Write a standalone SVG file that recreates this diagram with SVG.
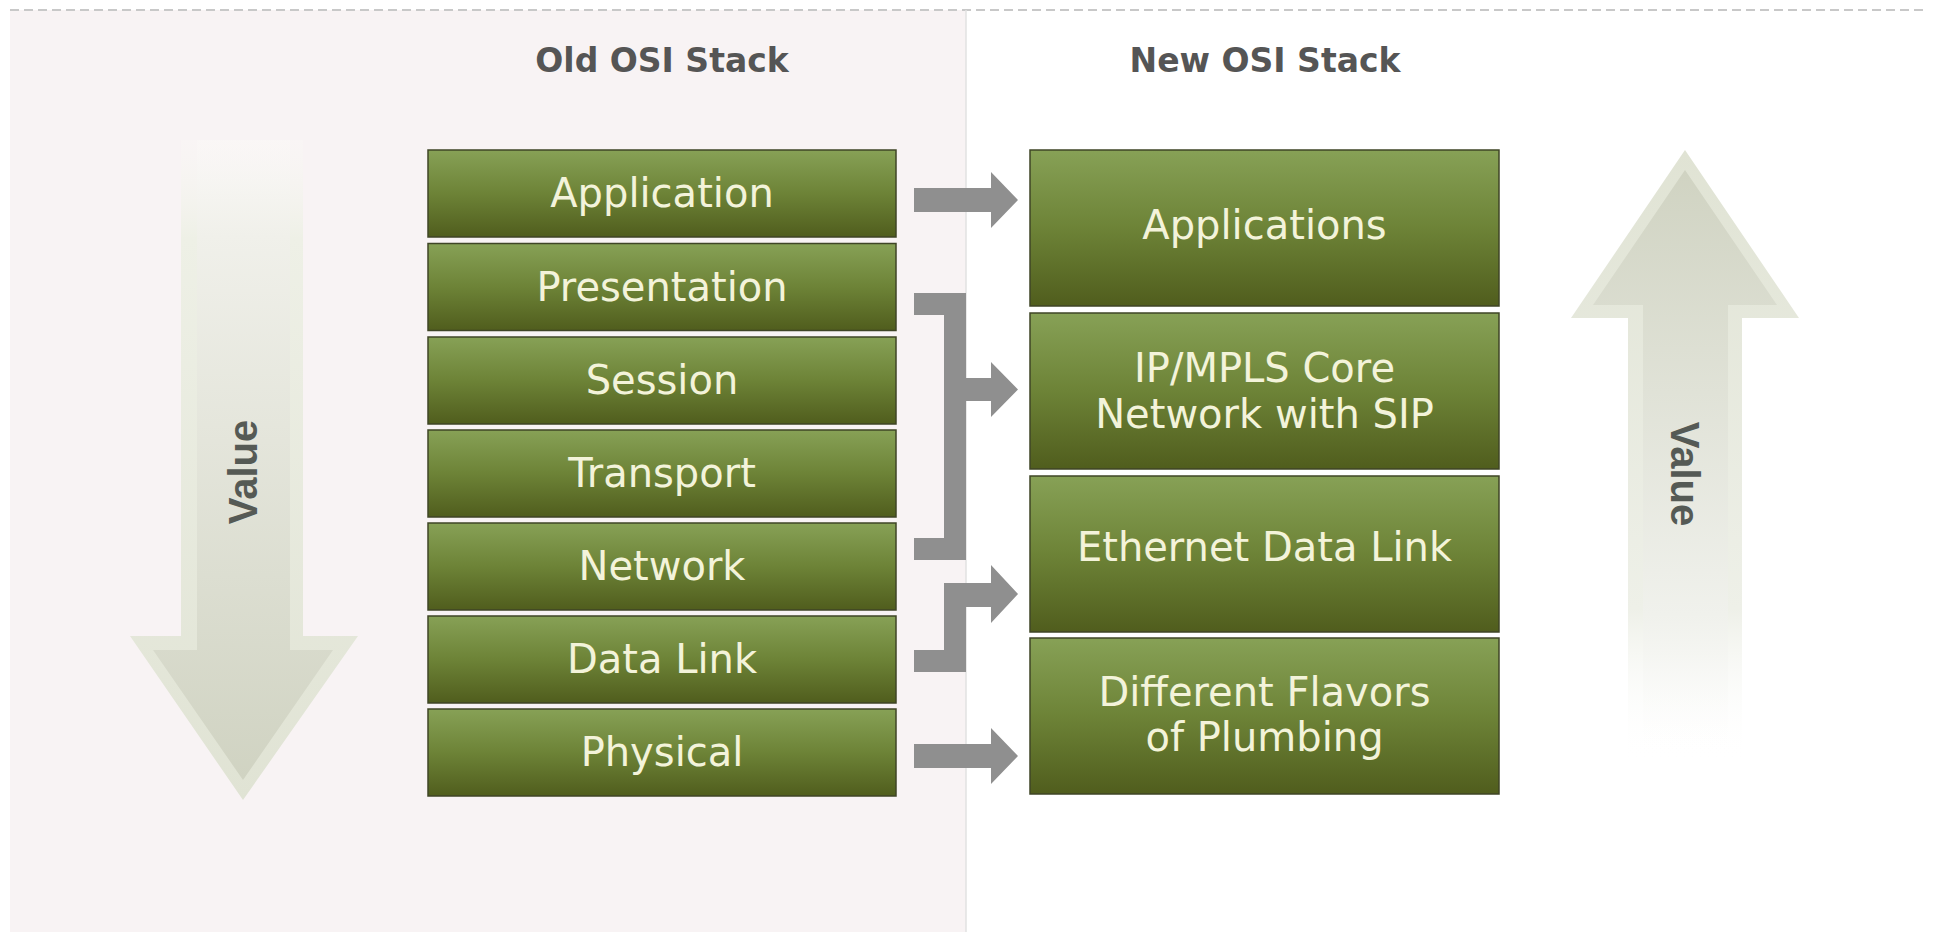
<svg xmlns="http://www.w3.org/2000/svg" width="1935" height="937" viewBox="0 0 1935 937">
  <defs>
    <linearGradient id="boxGrad" x1="0" y1="0" x2="0" y2="1">
      <stop offset="0" stop-color="#87a156"/>
      <stop offset="0.5" stop-color="#6d8337"/>
      <stop offset="1" stop-color="#505d1d"/>
    </linearGradient>
    <linearGradient id="downOuter" x1="0" y1="0" x2="0" y2="1">
      <stop offset="0" stop-color="#faf8f6" stop-opacity="0.4"/>
      <stop offset="0.15" stop-color="#eef0e6"/>
      <stop offset="1" stop-color="#e0e3d4"/>
    </linearGradient>
    <linearGradient id="downInner" x1="0" y1="0" x2="0" y2="1">
      <stop offset="0" stop-color="#fbf9f8" stop-opacity="0.4"/>
      <stop offset="0.15" stop-color="#f0f0ea"/>
      <stop offset="1" stop-color="#d0d3c2"/>
    </linearGradient>
    <linearGradient id="upOuter" x1="0" y1="0" x2="0" y2="1">
      <stop offset="0" stop-color="#e0e3d4"/>
      <stop offset="0.75" stop-color="#eef0e8"/>
      <stop offset="1" stop-color="#ffffff" stop-opacity="0"/>
    </linearGradient>
    <linearGradient id="upInner" x1="0" y1="0" x2="0" y2="1">
      <stop offset="0" stop-color="#d0d3c2"/>
      <stop offset="0.75" stop-color="#f0f1ec"/>
      <stop offset="1" stop-color="#ffffff" stop-opacity="0"/>
    </linearGradient>
    <style>
      .box { fill: url(#boxGrad); stroke: #3f4526; stroke-width: 1.5; }
      .lbl { font-family: "DejaVu Sans", Verdana, sans-serif; font-size: 40px; fill: #f3f3da; text-anchor: middle; }
      .title { font-family: "DejaVu Sans", Verdana, sans-serif; font-size: 33px; font-weight: bold; fill: #555555; text-anchor: middle; }
      .val { font-family: "Liberation Sans", Arial, sans-serif; font-size: 40px; font-weight: bold; fill: #555a55; text-anchor: middle; }
      .conn { fill: #8f8f8f; }
    </style>
  </defs>

  <!-- background -->
  <rect x="0" y="0" width="1935" height="937" fill="#ffffff"/>
  <rect x="10" y="10" width="956" height="922" fill="#f8f3f4"/>
  <line x1="10" y1="10" x2="1925" y2="10" stroke="#c8c8c8" stroke-width="2" stroke-dasharray="9 5"/>
  <line x1="966" y1="10" x2="966" y2="932" stroke="#e2e2e2" stroke-width="1.5"/>

  <!-- titles -->
  <text class="title" x="662" y="72">Old OSI Stack</text>
  <text class="title" x="1265" y="72">New OSI Stack</text>

  <!-- value arrows -->
  <g id="value-down">
    <polygon points="181,140 303,140 303,636 358,636 243,800 130,636 181,636" fill="url(#downOuter)"/>
    <polygon points="197,140 290,140 290,650 333,650 243,780 153,650 197,650" fill="url(#downInner)"/>
    <text class="val" transform="translate(257,472) rotate(-90)" x="0" y="0">Value</text>
  </g>
  <g id="value-up">
    <polygon points="1685,150 1799,318 1742,318 1742,762 1628,762 1628,318 1571,318" fill="url(#upOuter)"/>
    <polygon points="1685,170 1777,305 1728,305 1728,762 1643,762 1643,305 1593,305" fill="url(#upInner)"/>
    <text class="val" transform="translate(1671,474) rotate(90)" x="0" y="0">Value</text>
  </g>

  <!-- old stack -->
  <g id="old-application"><rect class="box" x="428" y="150" width="468" height="87"/><text class="lbl" x="662" y="207">Application</text></g>
  <g id="old-presentation"><rect class="box" x="428" y="243.5" width="468" height="87"/><text class="lbl" x="662" y="300.5">Presentation</text></g>
  <g id="old-session"><rect class="box" x="428" y="337" width="468" height="87"/><text class="lbl" x="662" y="394">Session</text></g>
  <g id="old-transport"><rect class="box" x="428" y="430" width="468" height="87"/><text class="lbl" x="662" y="487">Transport</text></g>
  <g id="old-network"><rect class="box" x="428" y="523" width="468" height="87"/><text class="lbl" x="662" y="580">Network</text></g>
  <g id="old-datalink"><rect class="box" x="428" y="616" width="468" height="87"/><text class="lbl" x="662" y="673">Data Link</text></g>
  <g id="old-physical"><rect class="box" x="428" y="709" width="468" height="87"/><text class="lbl" x="662" y="766">Physical</text></g>

  <!-- new stack -->
  <g id="new-applications"><rect class="box" x="1030" y="150" width="469" height="156"/><text class="lbl" x="1264.5" y="239">Applications</text></g>
  <g id="new-ipmpls"><rect class="box" x="1030" y="313" width="469" height="156"/><text class="lbl" x="1264.5" y="382">IP/MPLS Core</text><text class="lbl" x="1264.5" y="428">Network with SIP</text></g>
  <g id="new-ethernet"><rect class="box" x="1030" y="476" width="469" height="156"/><text class="lbl" x="1264.5" y="561">Ethernet Data Link</text></g>
  <g id="new-plumbing"><rect class="box" x="1030" y="638" width="469" height="156"/><text class="lbl" x="1264.5" y="706">Different Flavors</text><text class="lbl" x="1264.5" y="751">of Plumbing</text></g>

  <!-- connectors -->
  <g id="connectors">
    <polygon class="conn" points="914,188 991,188 991,172 1018,200 991,228 991,212 914,212"/>
    <polygon class="conn" points="914,293 966,293 966,378 991,378 991,362 1018,389.5 991,417 991,401 966,401 966,560 914,560 914,538 944,538 944,315 914,315"/>
    <polygon class="conn" points="914,650 944,650 944,583 991,583 991,565 1018,594 991,623 991,607 966,607 966,672 914,672"/>
    <polygon class="conn" points="914,744 991,744 991,728 1018,756 991,784 991,768 914,768"/>
  </g>
</svg>
